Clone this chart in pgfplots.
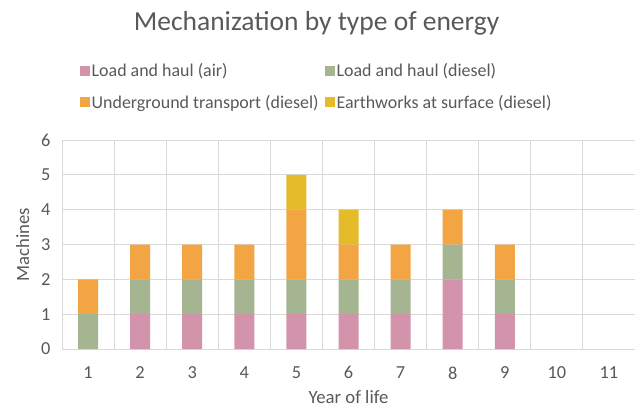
\documentclass[border=0pt]{standalone}
\usepackage{pgfplots}
\pgfplotsset{compat=1.18}
\usepackage{fontspec}
\setmainfont{Carlito}
\definecolor{txt}{HTML}{595959}
\definecolor{gridc}{HTML}{D9D9D9}
\definecolor{cpink}{HTML}{D394AB}
\definecolor{cgreen}{HTML}{A5B592}
\definecolor{corange}{HTML}{F3A544}
\definecolor{cyellow}{HTML}{E5BB2A}
\begin{document}
\begin{tikzpicture}
\begin{axis}[
  scale only axis,
  width=573bp, height=209bp,
  xmin=0.5, xmax=11.5, ymin=0, ymax=6,
  ybar stacked, bar width=20bp,
  xtick={1,...,11}, ytick={0,...,6},
  minor xtick={0.5,1.5,...,11.5},
  xminorgrids, ymajorgrids,
  grid style={draw=gridc, line width=0.9bp},
  minor grid style={draw=gridc, line width=0.9bp},
  major tick length=0pt, minor tick length=0pt,
  axis line style={draw=none},
  tick label style={font=\fontsize{18.4}{22}\selectfont, text=txt},
  /pgf/number format/assume math mode=true,
  xticklabel style={yshift=-14bp},
  yticklabel style={xshift=-8bp},
  xlabel={Year of life}, ylabel={Machines},
  label style={font=\fontsize{18.8}{22}\selectfont, text=txt},
  xlabel style={yshift=-4bp},
  ylabel style={yshift=5bp},
  legend columns=2,
  legend cell align=left,
  legend style={draw=none, fill=none, font=\fontsize{18}{22}\selectfont, text=txt,
    at={(rel axis cs:0.4443,1.254)}, anchor=center,
    /tikz/every even column/.append style={column sep=4bp},
    row sep=13bp},
  legend image code/.code={\fill[#1] (0bp,-4.5bp) rectangle (10bp,5.5bp);},
  clip=false,
]
\addplot[fill=cpink, draw=none] coordinates {(1,0)(2,1)(3,1)(4,1)(5,1)(6,1)(7,1)(8,2)(9,1)(10,0)(11,0)};
\addplot[fill=cgreen, draw=none] coordinates {(1,1)(2,1)(3,1)(4,1)(5,1)(6,1)(7,1)(8,1)(9,1)(10,0)(11,0)};
\addplot[fill=corange, draw=none] coordinates {(1,1)(2,1)(3,1)(4,1)(5,2)(6,1)(7,1)(8,1)(9,1)(10,0)(11,0)};
\addplot[fill=cyellow, draw=none] coordinates {(1,0)(2,0)(3,0)(4,0)(5,1)(6,1)(7,0)(8,0)(9,0)(10,0)(11,0)};
\legend{Load and haul (air), Load and haul (diesel), Underground transport (diesel), Earthworks at surface (diesel)}
\node[font=\fontsize{27.6}{32}\selectfont, text=txt] at (rel axis cs:0.4443,1.56) {Mechanization by type of energy};
\end{axis}
\pgfresetboundingbox
\path[use as bounding box] (-62bp,-61bp) rectangle (573bp,349bp);
\end{tikzpicture}
\end{document}
